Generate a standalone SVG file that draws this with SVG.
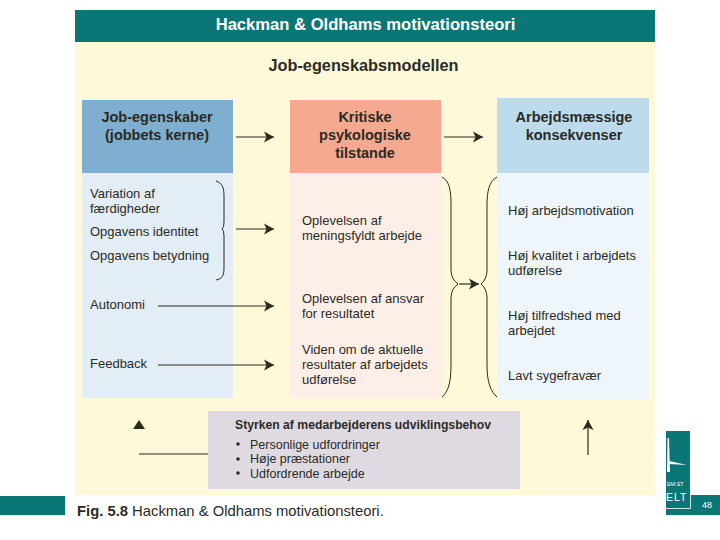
<svg xmlns="http://www.w3.org/2000/svg" width="720" height="540" viewBox="0 0 720 540">
<style>
text{font-family:"Liberation Sans",Arial,sans-serif;fill:#2b2b26}
.h{font-size:14.5px;font-weight:bold;text-anchor:middle;fill:#2a2a24}
.t{font-size:13px}
.u{font-size:12.5px}
.c{fill:none;stroke:#2c2a1c;stroke-width:1.2}
.br{fill:none;stroke:#2c2a1c;stroke-width:1}
</style>
<defs>
<marker id="a" markerUnits="userSpaceOnUse" markerWidth="11" markerHeight="12" refX="10" refY="6" orient="auto"><path d="M0 0.5L10 6L0 11.5L2.5 6Z" fill="#2c2a1c"/></marker>
</defs>
<rect width="720" height="540" fill="#fff"/>
<rect x="75" y="42" width="580" height="453" fill="#fef9d8"/>
<g id="title"><rect x="75" y="10" width="580" height="32" fill="#0b7676"/>
<text x="365.500" y="30" font-size="16.600" font-weight="bold" text-anchor="middle" style="fill:#fff">Hackman &amp; Oldhams motivationsteori</text></g>
<text x="363.500" y="71" font-size="16.300" font-weight="bold" text-anchor="middle">Job-egenskabsmodellen</text>
<g id="col1">
<rect x="82" y="173" width="151" height="225" fill="#e3edf5"/>
<rect x="82" y="100" width="151" height="73" fill="#7eafd0"/>
<text class="h" x="157" y="122">Job-egenskaber</text><text class="h" x="157" y="140">(jobbets kerne)</text>
<text class="t" x="90" y="198">Variation af</text><text class="t" x="90" y="213">færdigheder</text>
<text class="t" x="90" y="236">Opgavens identitet</text>
<text class="t" x="90" y="260">Opgavens betydning</text>
<text class="t" x="90" y="309">Autonomi</text>
<text class="t" x="90" y="368">Feedback</text>
</g>
<g id="col2">
<rect x="290" y="173" width="151" height="225" fill="#fdeee8"/>
<rect x="290" y="100" width="151" height="73" fill="#f5a990"/>
<text class="h" x="365" y="122">Kritiske</text><text class="h" x="365" y="140">psykologiske</text><text class="h" x="365" y="158">tilstande</text>
<text class="t" x="302" y="225">Oplevelsen af</text><text class="t" x="302" y="240">meningsfyldt arbejde</text>
<text class="t" x="302" y="303">Oplevelsen af ansvar</text><text class="t" x="302" y="318">for resultatet</text>
<text class="t" x="302" y="354">Viden om de aktuelle</text><text class="t" x="302" y="369">resultater af arbejdets</text><text class="t" x="302" y="384">udførelse</text>
</g>
<g id="col3">
<rect x="497" y="173" width="152" height="227" fill="#eef6fb"/>
<rect x="497" y="98" width="152" height="75" fill="#bcdcee"/>
<text class="h" x="574" y="122">Arbejdsmæssige</text><text class="h" x="574" y="140">konsekvenser</text>
<text class="t" x="508" y="215">Høj arbejdsmotivation</text>
<text class="t" x="508" y="260">Høj kvalitet i arbejdets</text><text class="t" x="508" y="275">udførelse</text>
<text class="t" x="508" y="320">Høj tilfredshed med</text><text class="t" x="508" y="335">arbejdet</text>
<text class="t" x="508" y="380">Lavt sygefravær</text>
</g>
<g id="behov">
<rect x="208" y="411" width="312" height="78" fill="#dfdae2"/>
<text x="235" y="429" font-size="12.200" font-weight="bold">Styrken af medarbejderens udviklingsbehov</text>
<circle cx="238" cy="444" r="1.800" fill="#2b2b26"/><text class="u" x="250" y="449">Personlige udfordringer</text>
<circle cx="238" cy="459" r="1.800" fill="#2b2b26"/><text class="u" x="250" y="463">Høje præstationer</text>
<circle cx="238" cy="473" r="1.800" fill="#2b2b26"/><text class="u" x="250" y="478">Udfordrende arbejde</text>
</g>
<g id="connectors">
<path class="c" marker-end="url(#a)" d="M236 137H274"/>
<path class="c" marker-end="url(#a)" d="M444 137H483"/>
<path class="c" marker-end="url(#a)" d="M236 229H274"/>
<path class="c" marker-end="url(#a)" d="M158 306H274"/>
<path class="c" marker-end="url(#a)" d="M158 365H274"/>
<path class="c" marker-end="url(#a)" d="M459 284H479"/>
<path class="c" marker-end="url(#a)" d="M588 455V420"/>
<path class="c" d="M139 454H208"/>
<path d="M133 429L139 420L145 429Z" fill="#2c2a1c"/>
<path class="br" d="M216 181C222 183 224 187 224 196V222Q224 228 222 229Q224 230 224 236V268C224 276 222 279 216 280"/>
<path class="br" d="M442 177C450 181 451 192 451 205V270Q451 279 458 284Q451 289 451 298V365C451 383 448 392 442 397"/>
<path class="br" d="M497 177C489 181 487 192 487 205V270Q487 279 481 284Q487 289 487 298V365C487 383 491 392 497 397"/>
</g>
<g id="footer">
<rect x="0" y="496" width="65" height="19" fill="#0b7676"/>
<rect x="666" y="431" width="24" height="64" fill="#0b7676"/>
<rect x="666" y="495" width="54" height="20" fill="#0b7676"/>
<path d="M666 508.500H690.500V431.500" fill="none" stroke="#fff" stroke-width="0.800"/>
<path d="M667.500 438H669L670 472H667Z" fill="#fff"/>
<path d="M669 461L687 465L669 464Z" fill="#fff"/>
<text x="667" y="486" font-size="5" style="fill:#fff">EMI ET</text>
<text x="666" y="501" font-size="10.500" letter-spacing="1" style="fill:#fff">ELT</text>
<text x="707" y="508" font-size="9" text-anchor="middle" style="fill:#fff">48</text>
</g>
<text x="77" y="516" font-size="14.800"><tspan font-weight="bold">Fig. 5.8</tspan> Hackman &amp; Oldhams motivationsteori.</text>
</svg>
